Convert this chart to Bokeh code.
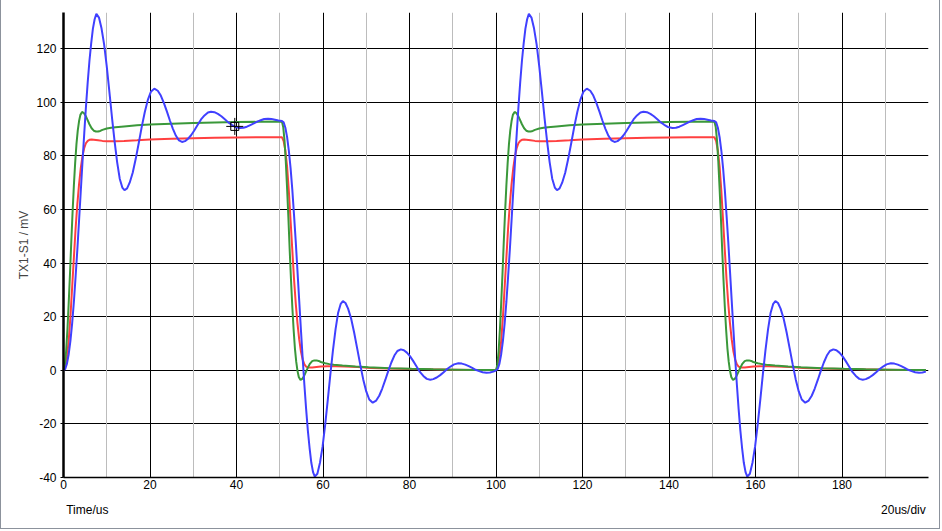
from bokeh.plotting import figure
from bokeh.models import Range1d, FixedTicker, Grid, LinearAxis
from bokeh.embed import file_html
from bokeh.resources import INLINE

period = 100.0

blue_t = [0, 0.4, 0.8, 1.2, 1.6, 2.0, 2.4, 2.8, 3.2, 3.6, 4.0, 4.4, 4.8, 5.2, 5.6, 6.0, 6.4, 6.8, 7.2, 7.6,
          8.2, 8.8, 9.4, 10, 10.6, 11.2, 11.8, 12.4, 13, 13.6, 14.1,
          14.7, 15.3, 16, 16.7, 17.4, 18.1, 18.8, 19.5, 20.2, 21,
          21.8, 22.5, 23.2, 23.9, 24.6, 25.3, 26, 26.7, 27.4,
          28.1, 28.8, 29.5, 30.2, 31, 31.8, 32.6, 33.4, 34.1,
          34.9, 35.7, 36.5, 37.3, 38.1, 38.9, 39.7, 40.8,
          41.6, 42.4, 43.2, 44, 44.8, 45.6, 46.4, 47.3,
          48.1, 48.9, 49.7, 50.5,
          50.9, 51.3, 51.7, 52.1, 52.5, 52.9, 53.3, 53.7, 54.1, 54.5, 54.9, 55.3, 55.7, 56.1, 56.5, 56.9, 57.3, 57.7, 58.1,
          58.7, 59.3, 59.9, 60.5, 61.1, 61.7, 62.3, 62.9, 63.5, 64.1, 64.6,
          65.2, 65.8, 66.5, 67.2, 67.9, 68.6, 69.3, 70, 70.7, 71.5,
          72.3, 73, 73.7, 74.4, 75.1, 75.8, 76.5, 77.2, 78,
          78.7, 79.4, 80.1, 80.8, 81.6, 82.4, 83.2, 84, 84.8,
          85.5, 86.3, 87.1, 87.9, 88.7, 89.5, 90.3, 91.3,
          92.1, 92.9, 93.7, 94.5, 95.3, 96.1, 96.9, 97.8, 98.6, 99.4]
blue_v = [0, 0.5, 2.5, 6, 11, 17.5, 25.5, 35, 45, 56, 67, 78, 88.5, 98.5, 107.5, 115.5, 122, 127.5, 131, 133,
          131.6, 127.5, 121.5, 113.4, 104.1, 94.5, 85.6, 77.7, 71.5, 68.2, 67.2,
          67.9, 70, 73.7, 78.9, 84.8, 90.9, 96.4, 100.9, 103.9, 105.1,
          104.3, 102.5, 99.8, 96.6, 93.2, 90.1, 87.5, 85.8, 85.2,
          85.5, 86.4, 87.7, 89.4, 91.5, 93.6, 95.1, 96.2, 96.5,
          96.3, 95.7, 94.8, 93.7, 92.5, 91.6, 90.8, 90.4,
          90.5, 90.9, 91.5, 92.1, 92.8, 93.3, 93.75, 93.9,
          93.8, 93.5, 93.2, 93.0,
          92.5, 90.5, 87, 82, 75.5, 67.5, 58, 48, 37, 26, 15, 4.5, -5.5, -14.5, -22.5, -29, -34.5, -38, -39.7,
          -38.6, -34.5, -28.5, -20.4, -11.1, -1.5, 7.4, 15.3, 21.5, 24.8, 25.8,
          25.1, 23, 19.3, 14.1, 8.2, 2.2, -3.4, -7.9, -10.9, -12.1,
          -11.3, -9.5, -6.8, -3.6, -0.2, 2.9, 5.5, 7.2, 7.8,
          7.5, 6.6, 5.3, 3.6, 1.5, -0.6, -2.1, -3.2, -3.5,
          -3.3, -2.7, -1.8, -0.7, 0.5, 1.4, 2.2, 2.6,
          2.5, 2.1, 1.55, 0.9, 0.2, -0.3, -0.7, -0.9, -0.8, -0.5]

red_t = [0, 0.4, 0.8, 1.2, 1.6, 2.0, 2.4, 2.8, 3.2, 3.6, 4.0, 4.4, 4.8, 5.2, 5.6, 6.0, 6.5, 7, 8, 9, 10, 12, 14,
         17, 20, 25, 30, 35, 40, 45, 50.5,
         50.9, 51.3, 51.7, 52.1, 52.5, 52.9, 53.3, 53.7, 54.1, 54.5, 54.9, 55.3, 55.7, 56.1, 56.6, 57.5, 58.5,
         59.5, 61, 63, 65, 68, 71, 75, 80, 85, 90, 95, 99.4]
red_v = [0, 1.5, 5, 11, 20, 31, 42, 53, 62, 69.5, 75.5, 80, 83, 84.8, 85.6, 86, 86.1, 86, 85.8, 85.6, 85.5, 85.5, 85.6,
         85.8, 86.1, 86.4, 86.6, 86.8, 86.9, 87.0, 87.0,
         85.5, 82, 76, 67, 56, 45, 34, 25, 17.5, 11.5, 7, 4, 2.2, 1.4, 1.0, 1.0, 1.2,
         1.4, 1.5, 1.5, 1.4, 1.2, 0.9, 0.7, 0.5, 0.35, 0.25, 0.15, 0.1]

green_t = [0, 0.3, 0.6, 0.9, 1.2, 1.5, 1.8, 2.1, 2.4, 2.7, 3.0, 3.3, 3.6, 3.9, 4.3, 4.7, 5.1, 5.5, 6.0, 6.5, 7.0,
           7.5, 8.0, 8.5, 9, 10, 11, 12, 14, 17, 20, 25, 30, 35, 40, 45, 50.5,
           50.8, 51.1, 51.4, 51.7, 52.0, 52.3, 52.6, 52.9, 53.2, 53.5, 53.8, 54.1, 54.4, 54.8, 55.2, 55.6, 56.0,
           56.5, 57.0, 57.5, 58.0, 58.5, 59, 59.5, 60.5, 61.5, 62.5, 64.5, 67.5, 70.5, 75.5, 80.5, 85.5, 90.5,
           95.5, 99.4]
green_v = [0, 2, 7, 15, 25, 36, 48, 59, 69, 77.5, 84.5, 89.5, 93, 95.3, 96.4, 96, 95, 93.6, 91.8, 90.3, 89.4,
           89.1, 89.1, 89.3, 89.7, 90.2, 90.5, 90.7, 91.0, 91.4, 91.7, 92.0, 92.3, 92.5, 92.6, 92.7, 92.8,
           90.8, 85.8, 77.8, 67.8, 56.8, 44.8, 33.8, 23.8, 15.3, 8.3, 3.3, -0.2, -2.5, -3.6, -3.2, -2.2, -0.8,
           1.0, 2.5, 3.4, 3.7, 3.7, 3.5, 3.1, 2.6, 2.3, 2.1, 1.8, 1.4, 1.1, 0.8, 0.55, 0.35, 0.25,
           0.15, 0.1]

cursor_t = [39.6]
cursor_v = [91.0]

x_ticks = [0, 20, 40, 60, 80, 100, 120, 140, 160, 180]
x_major_grid = [20, 40, 60, 80, 100, 120, 140, 160, 180]
x_minor_grid = [10, 30, 50, 70, 90, 110, 130, 150, 170, 190]
y_ticks = [-40, -20, 0, 20, 40, 60, 80, 100, 120]
y_grid = [-20, 0, 20, 40, 60, 80, 100, 120]

y_label = "TX1-S1 / mV"
x_label_left = "Time/us"
x_label_right = "20us/div"


def two_periods(t, v):
    tt = list(t) + [x + period for x in t]
    vv = list(v) + list(v)
    return tt, vv


FONT = "Liberation Sans"

p = figure(width=940, height=529, output_backend="svg", toolbar_location=None,
           x_range=Range1d(0, 200), y_range=Range1d(-40, 133.5),
           min_border_left=62, min_border_right=13, min_border_top=12, min_border_bottom=52)
p.outline_line_color = None
p.background_fill_color = "white"
p.border_fill_color = "white"
p.styles = {"border-left": "1px solid #8c929c", "border-right": "1px solid #8c929c",
            "border-bottom": "1px solid #8c929c"}

# grids
p.xgrid.ticker = FixedTicker(ticks=x_major_grid)
p.xgrid.grid_line_color = "black"
p.xgrid.grid_line_width = 1
p.ygrid.ticker = FixedTicker(ticks=y_grid)
p.ygrid.grid_line_color = "black"
p.ygrid.grid_line_width = 1
p.add_layout(Grid(dimension=0, ticker=FixedTicker(ticks=x_minor_grid),
                  grid_line_color="#bcbcbc", grid_line_width=1))

# axes
for ax in (p.xaxis[0], p.yaxis[0]):
    ax.major_label_text_font = FONT
    ax.major_label_text_font_size = "12px"
    ax.major_label_text_color = "black"
    ax.axis_line_color = "black"
    ax.minor_tick_line_color = None
    ax.major_tick_in = 0

p.xaxis.ticker = FixedTicker(ticks=x_ticks)
p.xaxis.major_tick_out = 0
p.xaxis.axis_line_width = 1.5
p.xaxis.major_label_standoff = 2

p.yaxis.ticker = FixedTicker(ticks=y_ticks)
p.yaxis.major_label_overrides = {t: str(t) for t in y_ticks}
p.yaxis.major_tick_out = 3
p.yaxis.major_tick_line_color = "black"
p.yaxis.axis_line_width = 2.5
p.yaxis.major_label_standoff = 4
p.yaxis.axis_label = y_label
p.yaxis.axis_label_text_font = FONT
p.yaxis.axis_label_text_font_size = "12px"
p.yaxis.axis_label_text_font_style = "normal"
p.yaxis.axis_label_standoff = 2

# second bottom axis carrying the two captions under the time axis
cap_axis = LinearAxis(ticker=FixedTicker(ticks=[5.5, 194.2]),
                      major_label_overrides={5.5: x_label_left, 194.2: x_label_right},
                      axis_line_color=None, major_tick_line_color=None, minor_tick_line_color=None,
                      major_label_text_font=FONT, major_label_text_font_size="12px",
                      major_label_text_color="black", major_label_standoff=5)
p.add_layout(cap_axis, "below")

# traces
for t, v, c in ((red_t, red_v, "#ff4040"), (green_t, green_v, "#3a983a"), (blue_t, blue_v, "#4040ff")):
    tt, vv = two_periods(t, v)
    p.line(tt, vv, line_color=c, line_width=2)

# cursor
p.scatter(cursor_t, cursor_v, marker="square", size=8, fill_color=None, line_color="black", line_width=1)
p.scatter(cursor_t, cursor_v, marker="cross", size=17, line_color="black", line_width=1)

open("out.html", "w").write(file_html(p, INLINE))
